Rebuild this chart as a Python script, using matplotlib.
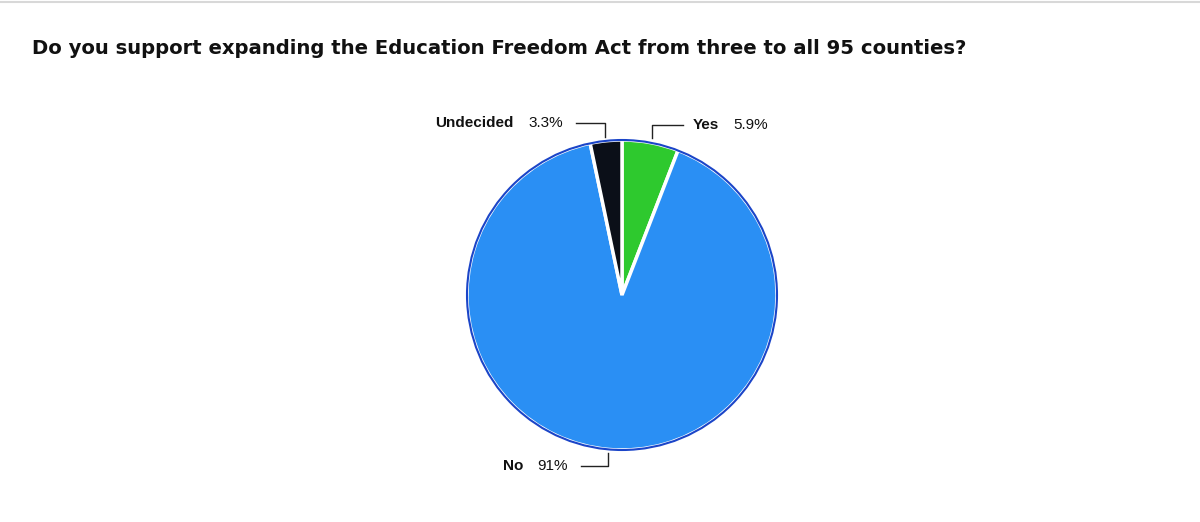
import matplotlib
matplotlib.use("Agg")
import matplotlib.pyplot as plt
from matplotlib.patches import Circle

title = "Do you support expanding the Education Freedom Act from three to all 95 counties?"
categories = ["Yes", "No", "Undecided"]
values = [5.9, 91.0, 3.3]
value_labels = ["5.9%", "91%", "3.3%"]
colors = ["#2ec92e", "#2a8ff4", "#0b0f18"]

W, H = 1200, 522
fig = plt.figure(figsize=(W / 100, H / 100), dpi=100)
ax = fig.add_axes([0, 0, 1, 1])
ax.set_xlim(0, W)
ax.set_ylim(0, H)
ax.set_aspect("equal")
ax.axis("off")

# top border
ax.plot([0, W], [H - 2, H - 2], color="#d8d8d8", lw=1.5)

fig.text(32 / W, 1 - 48 / H, title, fontsize=14.1, fontweight="bold",
         family="DejaVu Sans", ha="left", va="center", color="#111111")

cx, cy, r = 622, H - 295, 155
wedges, _ = ax.pie(values, colors=colors, startangle=90, counterclock=False,
                   center=(cx, cy), radius=r,
                   wedgeprops=dict(edgecolor="white", linewidth=2.5))
ax.add_patch(Circle((cx, cy), r, fill=False, edgecolor="#1b45c8", lw=1.5))

ax.set_xlim(0, W)
ax.set_ylim(0, H)

lab_font = dict(family="Liberation Sans", fontsize=11, color="#111111",
                va="center", ha="left")

# Undecided
y = H - 123
ax.text(435, y, categories[2], fontweight="bold", **lab_font)
ax.text(528, y, value_labels[2], **lab_font)
ax.plot([576, 605, 605], [y, y, H - 137], color="#222222", lw=1)

# Yes
y = H - 125
ax.text(693, y, categories[0], fontweight="bold", **lab_font)
ax.text(733, y, value_labels[0], **lab_font)
ax.plot([683, 652, 652], [y, y, H - 138], color="#222222", lw=1)

# No
y = H - 466
ax.text(503, y, categories[1], fontweight="bold", **lab_font)
ax.text(537, y, value_labels[1], **lab_font)
ax.plot([581, 608, 608], [y, y, H - 453], color="#222222", lw=1)

fig.savefig("out.png", dpi=100)
